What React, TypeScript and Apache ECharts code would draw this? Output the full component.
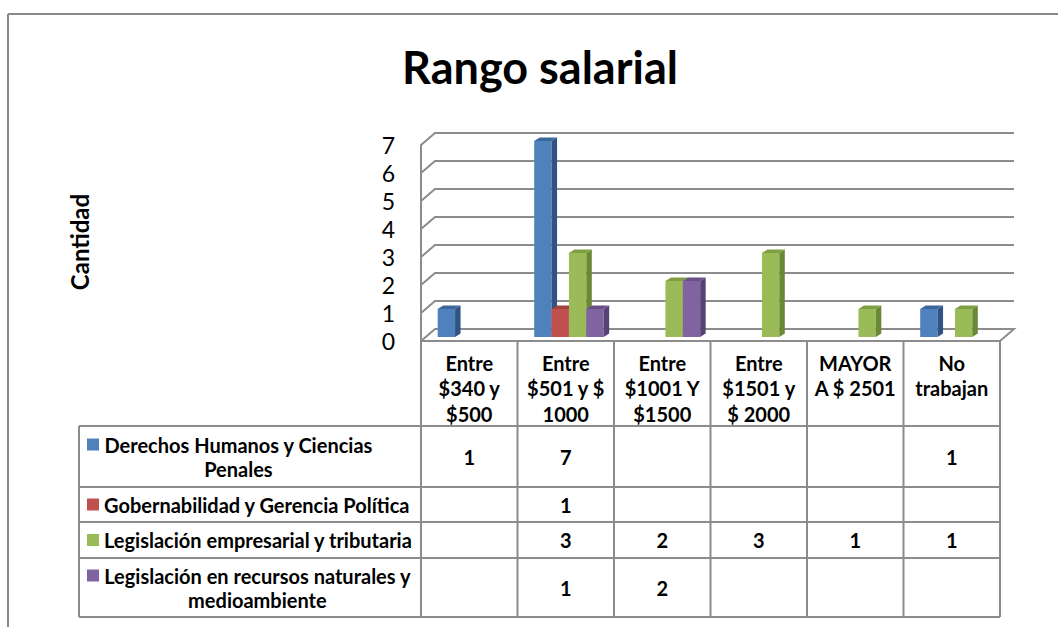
import React, { useEffect, useRef } from 'react';
import * as echarts from 'echarts';

const chartTitle = 'Rango salarial';
const yAxisTitle = 'Cantidad';
const categories = [
  'Entre\n$340 y\n$500',
  'Entre\n$501 y $\n1000',
  'Entre\n$1001 Y\n$1500',
  'Entre\n$1501 y\n$ 2000',
  'MAYOR\nA $ 2501',
  'No\ntrabajan',
];
const seriesNames = [
  'Derechos Humanos y Ciencias Penales',
  'Gobernabilidad y Gerencia Política',
  'Legislación empresarial y tributaria',
  'Legislación en recursos naturales y medioambiente',
];
const seriesLabelLines = [
  ['Derechos Humanos y Ciencias', 'Penales'],
  ['Gobernabilidad y Gerencia Política'],
  ['Legislación empresarial y tributaria'],
  ['Legislación en recursos naturales y', 'medioambiente'],
];
const derechosHumanos = [1, 7, null, null, null, 1];
const gobernabilidad = [null, 1, null, null, null, null];
const legislacionEmpresarial = [null, 3, 2, 3, 1, 1];
const legislacionRecursos = [null, 1, 2, null, null, null];
const yTicks = [0, 1, 2, 3, 4, 5, 6, 7];

const seriesValues: (number | null)[][] = [
  derechosHumanos,
  gobernabilidad,
  legislacionEmpresarial,
  legislacionRecursos,
];

const palette = [
  { front: '#4F81BD', side: '#2F5483', top: '#3C679A' },
  { front: '#C0504D', side: '#8A3533', top: '#A3413E' },
  { front: '#9BBB59', side: '#6B8835', top: '#809F43' },
  { front: '#8064A2', side: '#574278', top: '#6A508A' },
];

const FONT = 'Lato, "Open Sans", sans-serif';
const LINE = '#8c8c8c';
const DX = 14;
const DY = -12;
const BAR_SHIFT_Y = -4;
const SIDE_DX = 5.5;
const SIDE_DY = -3.5;
const TABLE_FONT = 20;

function barRenderer(idx: number) {
  return (params: any, api: any) => {
    const v = api.value(1);
    if (v == null || isNaN(v)) return null;
    const ci = api.value(0);
    const catW = api.size([1, 0])[0];
    const base = api.coord([ci, 0]);
    const top = api.coord([ci, v]);
    const bw = catW * 0.18;
    const x0 = base[0] - catW / 2 + catW * 0.173 + idx * bw;
    const yb = base[1] + BAR_SHIFT_Y;
    const yt = top[1] + BAR_SHIFT_Y;
    const c = palette[idx];
    return {
      type: 'group',
      children: [
        { type: 'rect', shape: { x: x0, y: yt, width: bw, height: yb - yt }, style: { fill: c.front } },
        {
          type: 'polygon',
          shape: { points: [[x0 + bw, yt], [x0 + bw + SIDE_DX, yt + SIDE_DY], [x0 + bw + SIDE_DX, yb + SIDE_DY], [x0 + bw, yb]] },
          style: { fill: c.side },
        },
        {
          type: 'polygon',
          shape: { points: [[x0, yt], [x0 + SIDE_DX, yt + SIDE_DY], [x0 + bw + SIDE_DX, yt + SIDE_DY], [x0 + bw, yt]] },
          style: { fill: c.top },
        },
      ],
    };
  };
}

function wallRenderer(params: any, api: any) {
  const cs = params.coordSys;
  const v = api.value(1);
  const y = api.coord([0, v])[1];
  const left = cs.x;
  const right = cs.x + cs.width;
  const pts: number[][] = [[left, y], [left + DX, y + DY], [right + DX, y + DY]];
  if (v === 0) pts.push([right, y]);
  return {
    type: 'polyline',
    shape: { points: pts },
    style: { stroke: LINE, lineWidth: 2, fill: 'none' },
  };
}

export default function App() {
  const ref = useRef<HTMLDivElement>(null);
  useEffect(() => {
    if (!ref.current) return;
    const chart = echarts.init(ref.current, undefined, { renderer: 'svg' });
    const option: any = {
      animation: false,
      backgroundColor: '#ffffff',
      title: {
        text: chartTitle,
        left: 540,
        top: 44,
        padding: 0,
        textAlign: 'center',
        textStyle: { fontSize: 45, fontWeight: 'bold', fontFamily: FONT, color: '#000' },
      },
      grid: { left: 421, right: 58, top: 145, bottom: 286, containLabel: false },
      xAxis: {
        type: 'category',
        data: categories,
        axisLine: { show: false },
        axisTick: { show: false },
        axisLabel: {
          interval: 0,
          fontSize: TABLE_FONT,
          fontWeight: 'bold',
          fontFamily: FONT,
          lineHeight: 25.5,
          verticalAlign: 'top',
          margin: 9,
          color: '#000',
        },
      },
      yAxis: {
        type: 'value',
        min: 0,
        max: 7,
        interval: 1,
        axisLine: { show: true, lineStyle: { color: LINE, width: 2 } },
        axisTick: { show: false },
        splitLine: { show: false },
        axisLabel: { fontSize: 23, color: '#000', margin: 26, fontFamily: FONT },
      },
      series: [
        {
          type: 'custom',
          name: 'wall',
          silent: true,
          z: 1,
          renderItem: wallRenderer,
          data: yTicks.map((t) => [0, t]),
        },
        ...seriesValues.map((vals, i) => ({
          type: 'custom',
          name: seriesNames[i],
          z: 2,
          renderItem: barRenderer(i),
          data: vals.map((v, ci) => (v == null ? null : [ci, v])).filter((d) => d != null),
        })),
      ],
    };
    chart.setOption(option);

    // Build the data table from the axis positions
    const colX = categories.map((_, i) => chart.convertToPixel({ xAxisIndex: 0 }, i) as number);
    const catW = colX[1] - colX[0];
    const tableTop = chart.convertToPixel({ yAxisIndex: 0 }, 0) as number;
    const rowEdges = [tableTop, 426, 487, 522, 558, 617];
    const labelColLeft = 79;
    const plotLeft = colX[0] - catW / 2;
    const plotRight = colX[colX.length - 1] + catW / 2;

    const canvas = document.createElement('canvas');
    const ctx = canvas.getContext('2d')!;
    ctx.font = `bold ${TABLE_FONT}px ${FONT}`;

    const g: any[] = [];
    const lineStyle = { stroke: LINE, lineWidth: 2 };
    // Outer chart border
    g.push({ type: 'line', shape: { x1: 8, y1: 14, x2: 1058, y2: 14 }, style: { stroke: '#888', lineWidth: 2 } });
    g.push({ type: 'line', shape: { x1: 8, y1: 14, x2: 8, y2: 627 }, style: { stroke: '#888', lineWidth: 2 } });
    // Horizontal table lines
    g.push({ type: 'line', shape: { x1: plotLeft, y1: rowEdges[0], x2: plotRight, y2: rowEdges[0] }, style: lineStyle });
    for (let r = 1; r < rowEdges.length; r++) {
      g.push({ type: 'line', shape: { x1: labelColLeft, y1: rowEdges[r], x2: plotRight, y2: rowEdges[r] }, style: lineStyle });
    }
    // Vertical table lines
    g.push({ type: 'line', shape: { x1: labelColLeft, y1: rowEdges[1], x2: labelColLeft, y2: rowEdges[rowEdges.length - 1] }, style: lineStyle });
    for (let c = 0; c <= categories.length; c++) {
      const x = plotLeft + c * catW;
      g.push({ type: 'line', shape: { x1: x, y1: rowEdges[0], x2: x, y2: rowEdges[rowEdges.length - 1] }, style: lineStyle });
    }
    // Row labels with legend keys
    seriesLabelLines.forEach((lines, r) => {
      const yMid = (rowEdges[r + 1] + rowEdges[r + 2]) / 2;
      const lh = 24;
      const firstLineY = yMid - ((lines.length - 1) * lh) / 2;
      g.push({
        type: 'rect',
        shape: { x: 87, y: firstLineY - 6, width: 12, height: 12 },
        style: { fill: palette[r].front },
      });
      const textX = 104;
      if (lines.length === 1) {
        g.push({
          type: 'text',
          x: textX,
          y: yMid,
          style: { text: lines[0], align: 'left', verticalAlign: 'middle', fontSize: TABLE_FONT, fontWeight: 'bold', fontFamily: FONT, fill: '#000' },
        });
      } else {
        const w = Math.max(...lines.map((l) => ctx.measureText(l).width));
        g.push({
          type: 'text',
          x: textX + w / 2,
          y: yMid,
          style: { text: lines.join('\n'), align: 'center', verticalAlign: 'middle', lineHeight: lh, fontSize: TABLE_FONT, fontWeight: 'bold', fontFamily: FONT, fill: '#000' },
        });
      }
      // Values
      seriesValues[r].forEach((v, c) => {
        if (v == null) return;
        g.push({
          type: 'text',
          x: colX[c],
          y: yMid,
          style: { text: String(v), align: 'center', verticalAlign: 'middle', fontSize: TABLE_FONT, fontWeight: 'bold', fontFamily: FONT, fill: '#000' },
        });
      });
    });
    // Y axis title
    g.push({
      type: 'text',
      x: 79,
      y: 242,
      rotation: Math.PI / 2,
      style: { text: yAxisTitle, align: 'center', verticalAlign: 'middle', fontSize: 24, fontWeight: 'bold', fontFamily: FONT, fill: '#000' },
    });

    chart.setOption({ graphic: { elements: g } });

    return () => chart.dispose();
  }, []);
  return (
    <div
      ref={ref}
      style={{ position: 'absolute', left: 0, top: 0, width: 1058, height: 627 }}
    />
  );
}
